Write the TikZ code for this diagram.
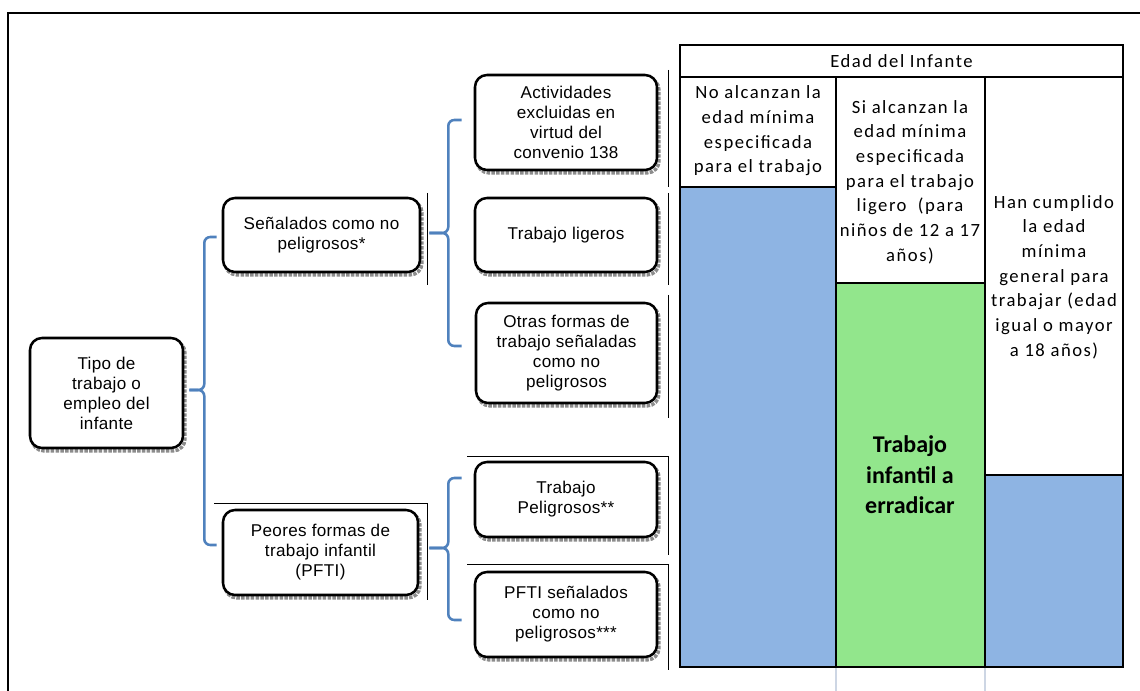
\documentclass[tikz,border=0pt]{standalone}
\usepackage{fontspec}
\setmainfont[LetterSpace=2]{Liberation Sans}
\newfontfamily\calib[LetterSpace=8]{Carlito}
\newfontfamily\calibb{Carlito}
\usetikzlibrary{calc,shadows}
\definecolor{brblue}{RGB}{79,129,189}
\definecolor{cellblue}{RGB}{142,180,227}
\definecolor{cellgreen}{RGB}{146,230,140}
\definecolor{guide}{RGB}{205,214,228}
\begin{document}
\begin{tikzpicture}[x=0.75pt,y=-0.75pt,
  box/.style={draw=black, line width=1.9pt, rounded corners=9pt, fill=white,
    align=center, inner sep=0pt, font=\fontsize{12.8}{15}\selectfont,
    general shadow={shadow xshift=1.5pt, shadow yshift=-2.2pt, draw=gray!90,
      densely dotted, line width=2.6pt, fill=none}},
  brace/.style={draw=brblue, line width=1.9pt, rounded corners=4.5pt},
  thinl/.style={draw=black, line width=0.75pt},
  celltext/.style={align=center, inner sep=0pt, font=\calib\fontsize{14}{18.5}\selectfont},
  frame/.style={draw=black, line width=1.6pt}
]
\useasboundingbox (0,0) rectangle (1140,691);
% outer frame
\draw[frame] (8,691) -- (8,13) -- (1140,13);

% left tree boxes
\node[box, minimum width=114.75pt, minimum height=82.5pt] (root) at (106.5,393) {Tipo de\\trabajo o\\empleo del\\infante};
\node[box, minimum width=147.75pt, minimum height=55.5pt] (sen) at (321.5,235) {Señalados como no\\peligrosos*};
\node[box, minimum width=146.25pt, minimum height=63.75pt] (peores) at (320.5,552.5) {Peores formas de\\trabajo infantil\\(PFTI)};
\node[box, minimum width=136.5pt, minimum height=71.25pt] (act) at (566,122.5) {Actividades\\excluidas en\\virtud del\\convenio 138};
\node[box, minimum width=136.5pt, minimum height=55.5pt] (lig) at (566,235) {Trabajo ligeros};
\node[box, minimum width=135.75pt, minimum height=75pt] (otras) at (566.5,353) {Otras formas de\\trabajo señaladas\\como no\\peligrosos};
\node[box, minimum width=136.5pt, minimum height=56.25pt] (pelig) at (566,499.5) {Trabajo\\Peligrosos**};
\node[box, minimum width=136.5pt, minimum height=63.75pt] (pftil) at (566,614.5) {PFTI señalados\\como no\\peligrosos***};

% thin leftover lines
\draw[thinl] (427,193) -- (427,285);
\draw[thinl] (668,70) -- (668,187);
\draw[thinl] (668,193) -- (668,285);
\draw[thinl] (668,295) -- (668,418);
\draw[thinl] (214,504) -- (427,504) -- (427,600);
\draw[thinl] (467,457) -- (668,457) -- (668,555);
\draw[thinl] (467,565) -- (668,565) -- (668,670);

% braces
\coordinate (t1) at ($(root.east)+(5,-3)$);
\draw[brace] (t1) -- ++(15,0) |- ($(sen.west)+(-5,2)$);
\draw[brace] (t1) -- ++(15,0) |- ($(peores.west)+(-5,-7.5)$);
\coordinate (t2) at ($(sen.east)+(8,-2)$);
\draw[brace] (t2) -- ++(19,0) |- ($(act.west)+(-12,-2.5)$);
\draw[brace] (t2) -- ++(19,0) |- ($(otras.west)+(-13,-7)$);
\coordinate (t3) at ($(peores.east)+(10,-4.5)$);
\draw[brace] (t3) -- ++(19,0) |- ($(pelig.west)+(-12,-21.5)$);
\draw[brace] (t3) -- ++(19,0) |- ($(pftil.west)+(-12,5.5)$);

% table fills
\fill[cellblue] (680,187) rectangle (836,667);
\fill[cellgreen] (836,283) rectangle (985,667);
\fill[cellblue] (985,475) rectangle (1123,667);
% table lines
\draw[line width=1.9pt] (680,45) rectangle (1123,667);
\draw[line width=1.6pt] (680,77) -- (1123,77);
\draw[line width=1.6pt] (836,77) -- (836,667);
\draw[line width=1.6pt] (985,77) -- (985,667);
\draw[line width=1.9pt] (680,187) -- (836,187);
\draw[line width=1.6pt] (836,283) -- (985,283);
\draw[line width=0.8pt] (985,475) -- (1123,475);
\draw[guide, line width=1.5pt] (836,668) -- (836,691);
\draw[guide, line width=1.5pt] (985,668) -- (985,691);

% table texts
\node[celltext] (hdr) at (901.5,61) {Edad del Infante};
\node[celltext] (c1) at (758,131) {No alcanzan la\\edad mínima\\especificada\\para el trabajo};
\node[celltext] (c2) at (910,182) {Si alcanzan la\\edad mínima\\especificada\\para el trabajo\\ligero\ \ (para\\niños de 12 a 17\\años)};
\node[celltext] (c3) at (1054,277) {Han cumplido\\la edad\\mínima\\general para\\trabajar (edad\\igual o mayor\\a 18 años)};
\node[align=center, inner sep=0pt, font=\calibb\bfseries\fontsize{18}{23}\selectfont] (erra) at (910,475) {Trabajo\\infantil a\\erradicar};
\end{tikzpicture}
\end{document}
